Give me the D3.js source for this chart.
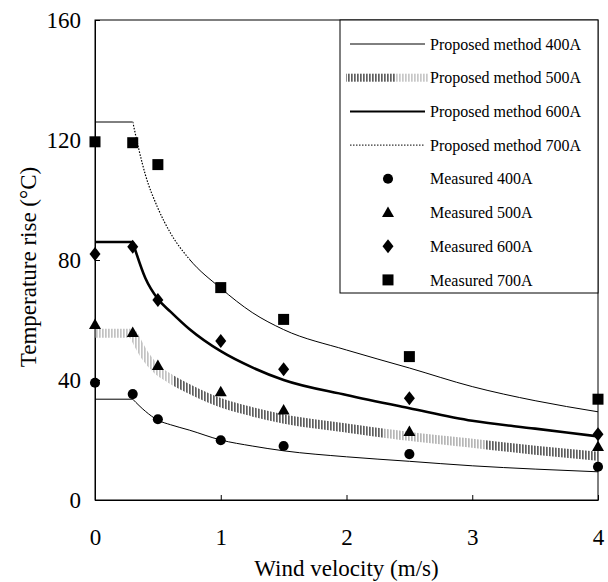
<!DOCTYPE html>
<html>
<head>
<meta charset="utf-8">
<script src="https://cdn.jsdelivr.net/npm/d3@7"></script>
</head>
<body style="margin:0">
<svg id="chart" width="608" height="582" style="font-family: Liberation Serif, serif"></svg>
<script>
// Measured temperature rise at each wind velocity
const speeds = [0, 0.3, 0.5, 1, 1.5, 2.5, 4];
const measured400 = [39.1, 35.3, 26.9, 19.9, 18.0, 15.3, 11.1];
const measured500 = [58.5, 55.8, 44.8, 36.1, 30.0, 22.8, 17.8];
const measured600 = [82.0, 84.4, 66.7, 53.0, 43.6, 33.9, 21.9];
const measured700 = [119.4, 119.1, 111.8, 70.8, 60.2, 47.8, 33.6];

// Proposed method curves (flat below 0.3 m/s, then decaying)
const curveSpeeds = [0, 0.3, 0.4, 0.5, 0.6, 0.75, 1, 1.25, 1.5, 2, 2.5, 3, 3.5, 4];
const model400 = [33.6, 33.6, 29.6, 26.6, 25.1, 23.3, 20.0, 18.0, 16.4, 14.4, 12.9, 11.4, 10.3, 9.4];
const model500 = [55.6, 55.6, 48.0, 43.2, 40.4, 37.0, 32.4, 29.4, 27.0, 24.0, 21.2, 18.9, 16.6, 14.6];
const model600 = [86.0, 86.0, 74.0, 67.0, 62.8, 57.0, 49.6, 44.2, 40.0, 35.0, 30.6, 26.4, 23.8, 21.2];
const model700 = [126.0, 126.0, 108.5, 97.3, 89.0, 80.3, 70.6, 62.5, 56.8, 50.0, 44.0, 37.8, 33.1, 29.4];

const xTicks = [0, 1, 2, 3, 4];
const yTicks = [0, 40, 80, 120, 160];

const legendLabels = [
  "Proposed method 400A", "Proposed method 500A", "Proposed method 600A", "Proposed method 700A",
  "Measured 400A", "Measured 500A", "Measured 600A", "Measured 700A"
];

const svg = d3.select("#chart");
const plot = { left: 95, right: 598, top: 20, bottom: 500 };

const x = d3.scaleLinear().domain([0, 4]).range([plot.left, plot.right]);
const y = d3.scaleLinear().domain([0, 160]).range([plot.bottom, plot.top]);

// every text element uses the serif face
function serifText(sel, size) {
  return sel.style("font-family", "Liberation Serif").style("font-size", size + "px").attr("fill", "#000");
}

const defs = svg.append("defs");

// vertical hatching used for the 500A band
const hatch = defs.append("pattern")
  .attr("id", "hatch").attr("patternUnits", "userSpaceOnUse")
  .attr("width", 3).attr("height", 12);
hatch.append("rect").attr("width", 3).attr("height", 12).attr("fill", "#fff");
hatch.append("rect").attr("x", 0).attr("width", 1.7).attr("height", 12).attr("fill", "#5e5e5e");

// uneven intensity along the 500A band
const bandMask = defs.append("mask").attr("id", "bandMask")
  .attr("maskUnits", "userSpaceOnUse")
  .attr("x", 0).attr("y", 0).attr("width", 608).attr("height", 582);
[[0, 0.62, 0.38], [0.62, 2.3, 1], [2.3, 3.1, 0.45], [3.1, 4.05, 1]].forEach(([a, b, o]) => {
  bandMask.append("rect")
    .attr("x", x(a)).attr("width", x(b) - x(a))
    .attr("y", 0).attr("height", 582)
    .attr("fill", "#fff").attr("fill-opacity", o);
});

// clip regions for the dotted / solid parts of the 700A curve
defs.append("clipPath").attr("id", "clipDotted")
  .append("rect").attr("x", x(0.3)).attr("width", x(0.75) - x(0.3)).attr("y", 0).attr("height", 582);
defs.append("clipPath").attr("id", "clipSolid")
  .append("rect").attr("x", x(0.75)).attr("width", x(4.05) - x(0.75)).attr("y", 0).attr("height", 582);

// axes with inward ticks
const yAxis = d3.axisLeft(y).tickValues(yTicks).tickFormat(d3.format("d"))
  .tickSizeInner(-5).tickSizeOuter(0).tickPadding(14);
const xAxis = d3.axisBottom(x).tickValues(xTicks).tickFormat(d3.format("d"))
  .tickSizeInner(-5).tickSizeOuter(0).tickPadding(29);

const gy = svg.append("g").attr("transform", `translate(${plot.left},0)`).call(yAxis);
const gx = svg.append("g").attr("transform", `translate(0,${plot.bottom})`).call(xAxis);
[gx, gy].forEach(g => {
  g.attr("font-family", null).attr("font-size", null);
  serifText(g.selectAll("text"), 23);
  g.selectAll("line").attr("stroke", "#000");
  g.select(".domain").attr("stroke", "#000");
});

// plot frame
svg.append("rect")
  .attr("x", plot.left).attr("y", plot.top)
  .attr("width", plot.right - plot.left).attr("height", plot.bottom - plot.top)
  .attr("fill", "none").attr("stroke", "#000").attr("stroke-width", 1);

// axis titles
serifText(svg.append("text"), 23)
  .attr("x", (plot.left + plot.right) / 2).attr("y", 576)
  .attr("text-anchor", "middle")
  .text("Wind velocity (m/s)");
serifText(svg.append("text"), 23)
  .attr("transform", `translate(36,267) rotate(-90)`)
  .attr("text-anchor", "middle")
  .text("Temperature rise (°C)");

// curve path: straight plateau then a smooth decay
const flatLine = d3.line().x(d => x(d[0])).y(d => y(d[1]));
const decayLine = d3.line().x(d => x(d[0])).y(d => y(d[1])).curve(d3.curveMonotoneX);
function curvePath(values) {
  const pts = curveSpeeds.map((s, i) => [s, values[i]]);
  return flatLine(pts.slice(0, 2)) + decayLine(pts.slice(1));
}

const curves = svg.append("g").attr("fill", "none");

// 500A: hatched grey band
curves.append("path")
  .attr("d", curvePath(model500))
  .attr("stroke", "url(#hatch)").attr("stroke-width", 9)
  .attr("mask", "url(#bandMask)");

// 400A: thin solid
curves.append("path")
  .attr("d", curvePath(model400))
  .attr("stroke", "#000").attr("stroke-width", 1);

// 600A: thick solid
curves.append("path")
  .attr("d", curvePath(model600))
  .attr("stroke", "#000").attr("stroke-width", 2.6);

// 700A: thin plateau, dotted steep part, then thin solid
const pts700 = curveSpeeds.map((s, i) => [s, model700[i]]);
curves.append("path")
  .attr("d", flatLine(pts700.slice(0, 2)))
  .attr("stroke", "#000").attr("stroke-width", 1);
curves.append("path")
  .attr("d", decayLine(pts700.slice(1)))
  .attr("clip-path", "url(#clipDotted)")
  .attr("stroke", "#000").attr("stroke-width", 1.2).attr("stroke-dasharray", "1.5,1.5");
curves.append("path")
  .attr("d", decayLine(pts700.slice(1)))
  .attr("clip-path", "url(#clipSolid)")
  .attr("stroke", "#000").attr("stroke-width", 1);

// marker shapes
const markerPath = {
  circle: d3.symbol().type(d3.symbolCircle).size(80)(),
  triangle: "M0,-6L6,4.5L-6,4.5Z",
  diamond: "M0,-7L5.5,0L0,7L-5.5,0Z",
  square: "M-5.5,-5.5H5.5V5.5H-5.5Z"
};

const measuredSeries = [
  { values: measured400, shape: "circle" },
  { values: measured500, shape: "triangle" },
  { values: measured600, shape: "diamond" },
  { values: measured700, shape: "square" }
];

const marks = svg.append("g");
measuredSeries.forEach(s => {
  marks.selectAll(null)
    .data(speeds.map((v, i) => [v, s.values[i]]))
    .join("path")
    .attr("d", markerPath[s.shape])
    .attr("transform", d => `translate(${x(d[0])},${y(d[1])})`)
    .attr("fill", "#000");
});

// legend
const legend = svg.append("g");
legend.append("rect")
  .attr("x", 340).attr("y", plot.top).attr("width", plot.right - 340).attr("height", 273)
  .attr("fill", "#fff").attr("stroke", "#000").attr("stroke-width", 1);

const rowY = i => 44 + i * 33.7;
legendLabels.forEach((label, i) => {
  serifText(legend.append("text"), 16)
    .attr("x", 430).attr("y", rowY(i)).attr("dy", "0.35em")
    .text(label);
});

// legend samples
legend.append("line").attr("x1", 350).attr("x2", 425).attr("y1", rowY(0)).attr("y2", rowY(0))
  .attr("stroke", "#000").attr("stroke-width", 1);
legend.append("rect").attr("x", 346).attr("y", rowY(1) - 4).attr("width", 50).attr("height", 8)
  .attr("fill", "url(#hatch)");
legend.append("rect").attr("x", 396).attr("y", rowY(1) - 4).attr("width", 32).attr("height", 8)
  .attr("fill", "url(#hatch)").attr("opacity", 0.35);
legend.append("line").attr("x1", 350).attr("x2", 425).attr("y1", rowY(2)).attr("y2", rowY(2))
  .attr("stroke", "#000").attr("stroke-width", 2);
legend.append("line").attr("x1", 350).attr("x2", 425).attr("y1", rowY(3)).attr("y2", rowY(3))
  .attr("stroke", "#000").attr("stroke-width", 1).attr("stroke-dasharray", "1.5,1.5");

measuredSeries.forEach((s, i) => {
  legend.append("path")
    .attr("d", markerPath[s.shape])
    .attr("transform", `translate(388,${rowY(i + 4)})`)
    .attr("fill", "#000");
});
</script>
</body>
</html>
